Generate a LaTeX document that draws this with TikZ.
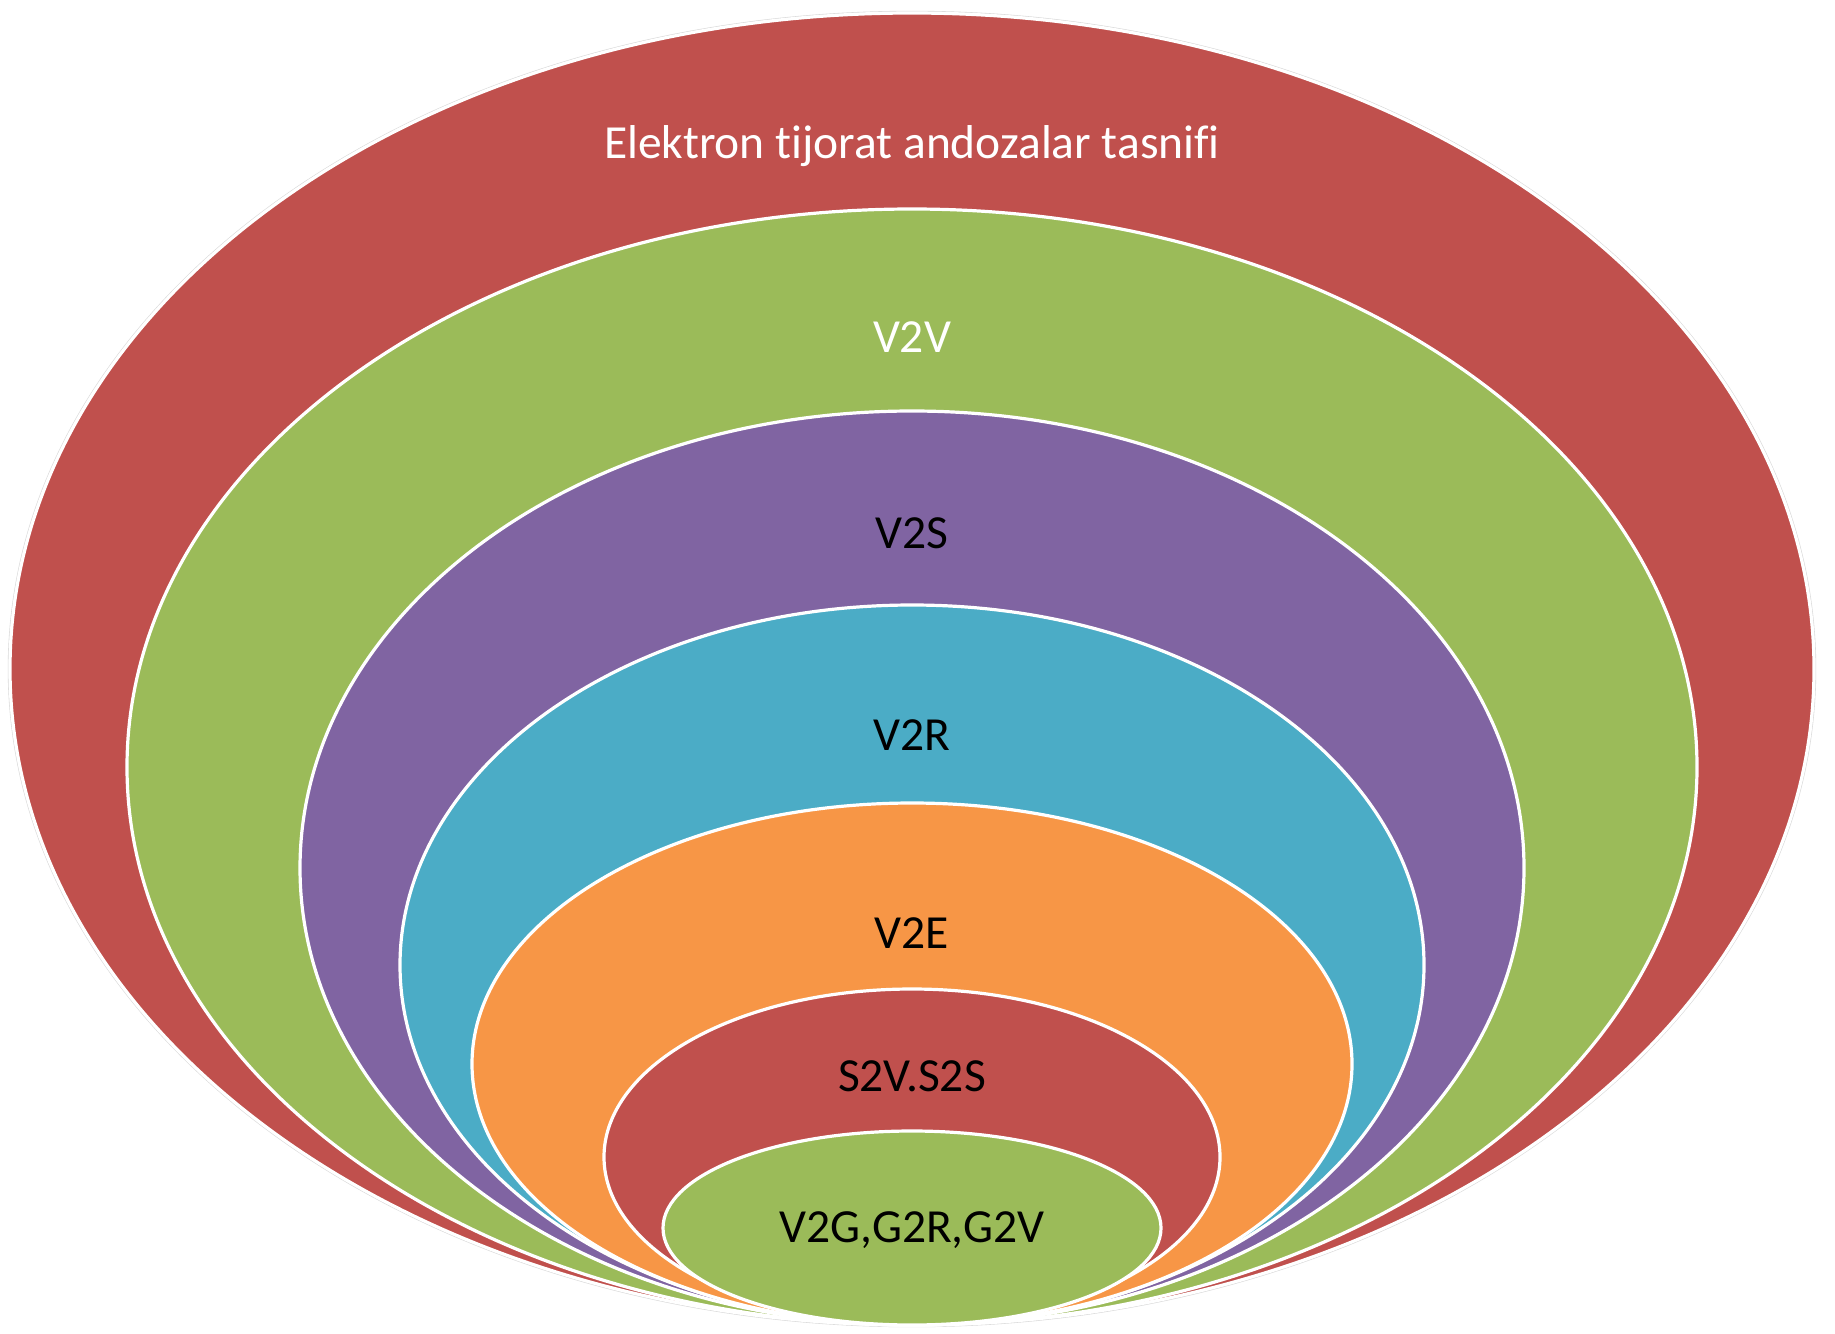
\documentclass[tikz,border=0pt]{standalone}
\usepackage{fontspec}
\setmainfont{Carlito}[Ligatures=NoCommon]
\usepackage{tikz}
\usetikzlibrary{positioning}
\definecolor{ored}{HTML}{C0504D}
\definecolor{ogreen}{HTML}{9BBB59}
\definecolor{opurple}{HTML}{8064A2}
\definecolor{oteal}{HTML}{4BACC6}
\definecolor{oorange}{HTML}{F79646}
\tikzset{
  ring/.style = {draw=white, line width=1.6pt},
  lab/.style  = {font=\fontsize{23.75}{28}\selectfont, anchor=base, inner sep=0pt},
}

\begin{document}
\begin{tikzpicture}[x=0.5pt,y=-0.5pt]
  \useasboundingbox (0,0) rectangle (1835,1333);
  \draw[gray!30, line width=1.2pt] (912,669) ellipse (903 and 657);
  \foreach \i/\rx/\ry/\col in {1/902/656/ored,2/785/558/ogreen,3/612/457/opurple,
    4/512/360/oteal,5/440/261/oorange,6/308/168/ored,7/249/97/ogreen}{
    \filldraw[ring,fill=\col] (912,1325-\ry) ellipse ({\rx} and {\ry});}
  \foreach \i/\y/\tc/\lab in {1/142/white/{Elektron tijorat andozalar tasnifi},
    2/336/white/V2V,3/532/black/V2S,4/734/black/V2R,5/932/black/V2E,
    6/1075/black/S2V.S2S,7/1226/black/{V2G,G2R,G2V}}{
    \node[lab,text=\tc] (l\i) at (912,\y+16) {\lab};}
\end{tikzpicture}
\end{document}
